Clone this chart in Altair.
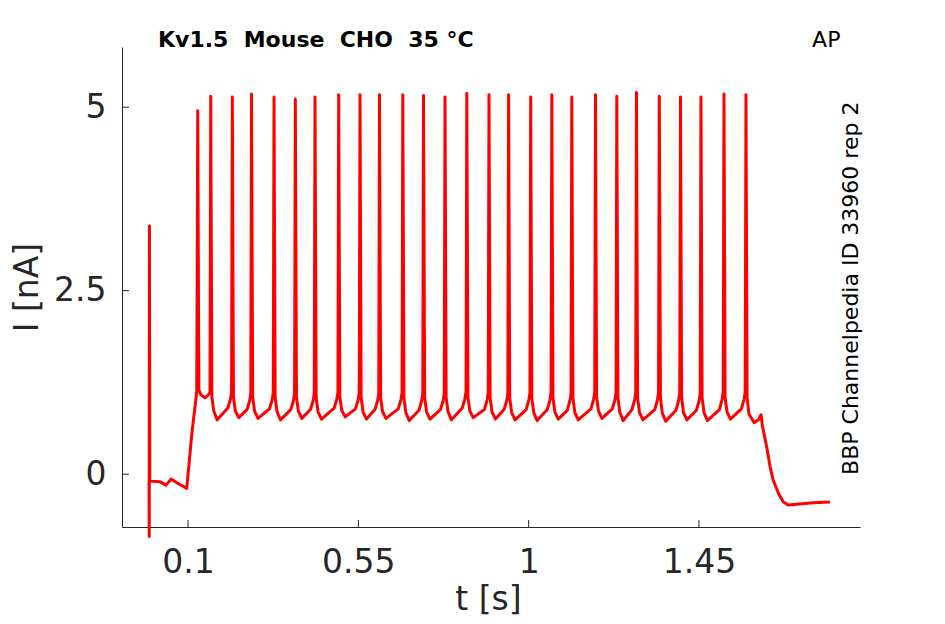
import altair as alt
import pandas as pd

# ---- data (t in s, I in nA) ----
# initial transient + holding baseline
base_t = [-0.0030, -0.0025, -0.0020, -0.0010, 0.0000, 0.026, 0.042, 0.055, 0.071, 0.087, 0.0966]
base_i = [-0.10, -0.85, 3.38, -0.10, -0.095, -0.105, -0.15, -0.068, -0.118, -0.164, -0.195]

# step onset
rise_t = [0.110, 0.123]
rise_i = [0.55, 1.12]

# spike train (peak, post, trough region, pre-spike ramp)
train_t = [
    0.1256, 0.1285, 0.1340, 0.1450, 0.1537, 0.1580,
    0.1600, 0.1630, 0.1680, 0.1770, 0.2050, 0.2120, 0.2150,
    0.2170, 0.2200, 0.2250, 0.2340, 0.2558, 0.2628, 0.2658,
    0.2678, 0.2708, 0.2758, 0.2848, 0.3152, 0.3222, 0.3252,
    0.3272, 0.3302, 0.3352, 0.3442, 0.3715, 0.3785, 0.3815,
    0.3835, 0.3865, 0.3915, 0.4005, 0.4235, 0.4305, 0.4335,
    0.4355, 0.4385, 0.4435, 0.4525, 0.4861, 0.4931, 0.4961,
    0.4981, 0.5011, 0.5061, 0.5151, 0.5424, 0.5494, 0.5524,
    0.5544, 0.5574, 0.5624, 0.5714, 0.5939, 0.6009, 0.6039,
    0.6059, 0.6089, 0.6139, 0.6229, 0.6555, 0.6625, 0.6655,
    0.6675, 0.6705, 0.6755, 0.6845, 0.7102, 0.7172, 0.7202,
    0.7222, 0.7252, 0.7302, 0.7392, 0.7670, 0.7740, 0.7770,
    0.7790, 0.7820, 0.7870, 0.7960, 0.8246, 0.8316, 0.8346,
    0.8366, 0.8396, 0.8446, 0.8536, 0.8832, 0.8902, 0.8932,
    0.8952, 0.8982, 0.9032, 0.9122, 0.9350, 0.9420, 0.9450,
    0.9470, 0.9500, 0.9550, 0.9640, 0.9934, 1.0004, 1.0034,
    1.0054, 1.0084, 1.0134, 1.0224, 1.0492, 1.0562, 1.0592,
    1.0612, 1.0642, 1.0692, 1.0782, 1.1020, 1.1090, 1.1120,
    1.1140, 1.1170, 1.1220, 1.1310, 1.1646, 1.1716, 1.1746,
    1.1766, 1.1796, 1.1846, 1.1936, 1.2209, 1.2279, 1.2309,
    1.2329, 1.2359, 1.2409, 1.2499, 1.2729, 1.2799, 1.2829,
    1.2849, 1.2879, 1.2929, 1.3019, 1.3332, 1.3402, 1.3432,
    1.3452, 1.3482, 1.3532, 1.3622, 1.3892, 1.3962, 1.3992,
    1.4012, 1.4042, 1.4092, 1.4182, 1.4433, 1.4503, 1.4533,
    1.4553, 1.4583, 1.4633, 1.4723, 1.5041, 1.5111, 1.5141,
    1.5161, 1.5191, 1.5241, 1.5331, 1.5622, 1.5692, 1.5722,
    1.5742, 1.5772, 1.5822,
]
train_i = [
    4.95, 1.15, 1.08, 1.04, 1.08, 1.12,
    5.15, 1.05, 0.86, 0.74, 0.90, 1.02, 1.12,
    5.14, 1.05, 0.86, 0.77, 0.88, 1.00, 1.10,
    5.18, 1.05, 0.86, 0.76, 0.89, 1.01, 1.11,
    5.14, 1.04, 0.85, 0.74, 0.88, 1.00, 1.10,
    5.11, 1.05, 0.86, 0.76, 0.88, 1.00, 1.10,
    5.14, 1.04, 0.85, 0.75, 0.90, 1.02, 1.12,
    5.17, 1.05, 0.87, 0.78, 0.89, 1.01, 1.11,
    5.17, 1.04, 0.85, 0.75, 0.88, 1.00, 1.10,
    5.17, 1.04, 0.85, 0.76, 0.89, 1.01, 1.11,
    5.17, 1.04, 0.84, 0.73, 0.87, 1.00, 1.10,
    5.16, 1.04, 0.85, 0.75, 0.88, 1.00, 1.10,
    5.14, 1.04, 0.85, 0.74, 0.90, 1.03, 1.13,
    5.19, 1.05, 0.86, 0.77, 0.88, 1.01, 1.11,
    5.17, 1.04, 0.85, 0.75, 0.88, 1.00, 1.10,
    5.17, 1.04, 0.84, 0.74, 0.88, 1.01, 1.11,
    5.14, 1.04, 0.84, 0.73, 0.88, 1.01, 1.11,
    5.17, 1.04, 0.85, 0.75, 0.87, 1.00, 1.10,
    5.14, 1.04, 0.84, 0.74, 0.89, 1.02, 1.12,
    5.17, 1.05, 0.86, 0.76, 0.89, 1.01, 1.11,
    5.15, 1.04, 0.84, 0.73, 0.88, 1.01, 1.11,
    5.20, 1.04, 0.84, 0.74, 0.88, 1.01, 1.11,
    5.15, 1.04, 0.83, 0.72, 0.87, 1.00, 1.10,
    5.14, 1.04, 0.84, 0.74, 0.87, 1.00, 1.10,
    5.14, 1.04, 0.84, 0.73, 0.88, 1.02, 1.12,
    5.18, 1.04, 0.85, 0.75, 0.89, 1.02, 1.12,
    5.17, 1.04, 0.82,
]

# step offset and return to holding level
tail_t = [1.5960, 1.6070, 1.6140, 1.6180, 1.6290, 1.6380, 1.6460, 1.6600,
          1.6730, 1.6860, 1.7080, 1.7520, 1.7960]
tail_i = [0.70, 0.74, 0.81, 0.65, 0.37, 0.10, -0.08, -0.26,
          -0.38, -0.42, -0.41, -0.39, -0.38]

x_ticks = [0.1, 0.55, 1, 1.45]
y_ticks = [0, 2.5, 5]
x_dom = [-0.0745, 1.8755]
y_dom = [-0.72, 5.82]

# double spaces kept visible with no-break spaces
title_text = "Kv1.5 \u00a0Mouse \u00a0CHO \u00a035 °C"
corner_text = "AP"
side_text = "BBP Channelpedia ID 33960 rep 2"

# ---- build table ----
all_t = base_t + rise_t + train_t + tail_t
all_i = base_i + rise_i + train_i + tail_i
df = pd.DataFrame({"t": all_t, "I": all_i, "k": list(range(len(all_t)))})

FONT = "DejaVu Sans"
AX = "#262626"

xs = alt.Scale(domain=x_dom, nice=False, zero=False)
ys = alt.Scale(domain=y_dom, nice=False, zero=False)

line = alt.Chart(df).mark_line(color="#ff0000", strokeWidth=3.0, strokeJoin="round").encode(
    x=alt.X("t:Q", scale=xs, title="t [s]",
            axis=alt.Axis(values=x_ticks, labelExpr="toString(datum.value)", tickSize=0,
                          labelPadding=19, grid=False,
                          titleX=366, titleY=82, titleAlign="center",
                          titleBaseline="alphabetic")),
    y=alt.Y("I:Q", scale=ys, title="I [nA]",
            axis=alt.Axis(values=y_ticks, labelExpr="toString(datum.value)", tickSize=0,
                          labelPadding=16, grid=False,
                          titleX=-85, titleY=240, titleAngle=270, titleAlign="center",
                          titleBaseline="alphabetic")),
    order="k:Q",
)

# inward-pointing ticks (MATLAB style)
xt = alt.Chart(pd.DataFrame({"v": x_ticks})).mark_rule(color=AX, strokeWidth=1).encode(
    x="v:Q",
    y=alt.datum(y_dom[0]),
    y2=alt.datum(y_dom[0] + 0.095),
)
yt = alt.Chart(pd.DataFrame({"v": y_ticks})).mark_rule(color=AX, strokeWidth=1).encode(
    y="v:Q",
    x=alt.datum(x_dom[0]),
    x2=alt.datum(x_dom[0] + 0.0185),
)

title = alt.Chart(pd.DataFrame({"s": [title_text]})).mark_text(
    font=FONT, fontSize=22, fontWeight="bold", color="black", align="left", baseline="alphabetic"
).encode(x=alt.datum(0.0207), y=alt.datum(y_dom[1]), text="s:N")

corner = alt.Chart(pd.DataFrame({"s": [corner_text]})).mark_text(
    font=FONT, fontSize=22, color="black", align="left", baseline="alphabetic"
).encode(x=alt.datum(1.749), y=alt.datum(y_dom[1]), text="s:N")

side = alt.Chart(pd.DataFrame({"s": [side_text]})).mark_text(
    font=FONT, fontSize=22, color="black", align="left", baseline="alphabetic", angle=270
).encode(x=alt.datum(1.8709), y=alt.datum(-0.01), text="s:N")

chart = alt.layer(line, xt, yt, title, corner, side).properties(
    width=738, height=480,
    autosize=alt.AutoSizeParams(type="none"),
    padding={"left": 114, "top": 39, "right": 60, "bottom": 89},
).configure(background="white").configure_view(stroke=None).configure_axis(
    domainColor=AX, domainWidth=1, labelColor=AX, titleColor=AX,
    labelFont=FONT, titleFont=FONT, labelFontSize=33, titleFontSize=33,
    titleFontWeight="normal",
)

chart.save("out.html", embed_options={"renderer": "svg", "actions": False})
